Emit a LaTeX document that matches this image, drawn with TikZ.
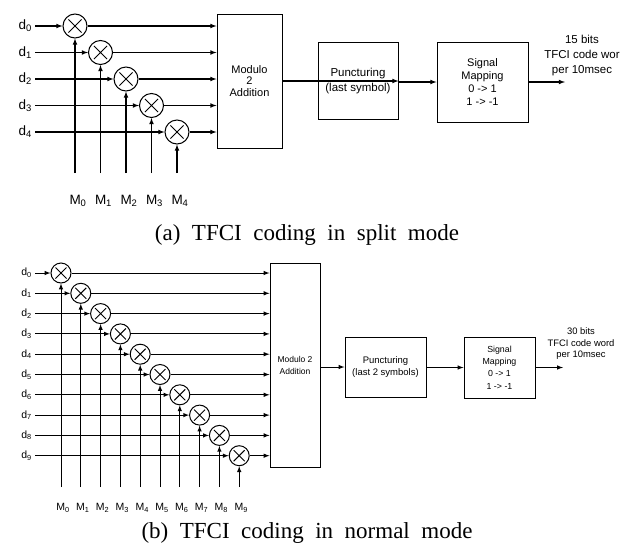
\documentclass[tikz,border=0pt]{standalone}
\usepackage{fontspec}
\setmainfont{Liberation Serif}
\setsansfont{Liberation Sans}
\usepackage{tikz}
\usetikzlibrary{arrows, positioning, calc}

\begin{document}
\begin{tikzpicture}[x=1pt, y=-1pt, >=latex,
    wire/.style={line width=#1},
    wire/.default=1.1pt,
    mulnode/.style={draw, circle, fill=white, line width=1pt, minimum size=2*#1, inner sep=0pt,
        path picture={\draw[line width=1pt]
            ([shift={(-0.55*#1,-0.55*#1)}]path picture bounding box.center) -- ([shift={(0.55*#1,0.55*#1)}]path picture bounding box.center)
            ([shift={(-0.55*#1,0.55*#1)}]path picture bounding box.center) -- ([shift={(0.55*#1,-0.55*#1)}]path picture bounding box.center);}},
    blockbox/.style={draw, line width=1pt, align=center, inner sep=0pt},
    lab/.style={inner sep=0pt, font=\sffamily\fontsize{#1}{#1}\selectfont},
    capt/.style={inner sep=0pt, font=\fontsize{23}{26}\selectfont}]

\useasboundingbox (0,0) rectangle (634,552);

% (a) split mode
\node[blockbox, minimum width=65pt, minimum height=134pt,
      font=\sffamily\fontsize{11}{11.5}\selectfont] (amod) at (249.5,81) {Modulo\\2\\Addition};
\node[blockbox, minimum width=80pt, minimum height=77pt,
      font=\sffamily\fontsize{11.5}{15}\selectfont] (apunct) at (358,81) {Puncturing\\(last symbol)};
\node[blockbox, minimum width=91pt, minimum height=80pt,
      font=\sffamily\fontsize{11}{13.3}\selectfont] (asig) at (482.5,82) {Signal\\Mapping\\0 -> 1\\1 -> -1};
\coordinate (aend) at (565,82);
\node[lab=11.5, align=center, font=\sffamily\fontsize{11.5}{15}\selectfont] (aout) at (582,56) {15 bits\\TFCI code wor\\per 10msec};

\foreach \i in {0,...,4} {
    \pgfmathsetmacro\yy{26+26.5*\i}
    \pgfmathsetmacro\xx{75+25.5*\i}
    \coordinate (ain\i) at (35,\yy);
    \node[lab=13.5, left=3pt of ain\i] (ad\i) {d\textsubscript{\i}};
    \node[mulnode=12pt] (ax\i) at (\xx,\yy) {};
    \coordinate (am\i) at (\xx,173);
    \node[lab=13.5] (aM\i) at (\xx+3,201) {M\textsubscript{\i}};
    \draw[wire,->] (ain\i) -- (ax\i.west);
    \draw[wire,->] (ax\i.east) -- (ax\i.east -| amod.west);
    \draw[wire,->] (am\i) -- (ax\i.south);
}

\draw[wire,->] (amod.east |- apunct.east) -- (apunct.east);
\draw[wire,->] (apunct.east |- asig.west) -- (asig.west);
\draw[wire,->] (asig.east) -- (aend);

\node[capt] (capA) at (307,235) {(a)\ \ TFCI\ \ coding\ \ in\ \ split\ \ mode};

% (b) normal mode
\node[blockbox, minimum width=50pt, minimum height=204pt,
      font=\sffamily\fontsize{8.5}{12}\selectfont] (bmod) at (295,365) {Modulo 2\\Addition};
\node[blockbox, minimum width=81pt, minimum height=60pt,
      font=\sffamily\fontsize{9.5}{12}\selectfont] (bpunct) at (385.5,367) {Puncturing\\(last 2 symbols)};
\node[blockbox, minimum width=71pt, minimum height=61pt,
      font=\sffamily\fontsize{8.8}{12.3}\selectfont] (bsig) at (499.5,367.5) {Signal\\Mapping\\0 -> 1\\1 -> -1};
\coordinate (bend) at (563,367.5);
\node[align=center, inner sep=0pt, font=\sffamily\fontsize{9.4}{11.5}\selectfont] (bout) at (581,344) {30 bits\\TFCI code word\\per 10msec};

\foreach \i in {0,...,9} {
    \pgfmathsetmacro\yy{273+20.3*\i}
    \pgfmathsetmacro\xx{61+19.8*\i}
    \coordinate (bin\i) at (35,\yy);
    \node[lab=10.5, left=3pt of bin\i] (bd\i) {d\textsubscript{\i}};
    \node[mulnode=10pt] (bx\i) at (\xx,\yy) {};
    \coordinate (bm\i) at (\xx,487);
    \node[lab=10.5] (bM\i) at (\xx+2,508) {M\textsubscript{\i}};
    \draw[wire=1pt,->] (bin\i) -- (bx\i.west);
    \draw[wire=1pt,->] (bx\i.east) -- (bx\i.east -| bmod.west);
    \draw[wire=1pt,->] (bm\i) -- (bx\i.south);
}

\draw[wire=1pt,->] (bmod.east |- bpunct.west) -- (bpunct.west);
\draw[wire=1pt,->] (bpunct.east |- bsig.west) -- (bsig.west);
\draw[wire=1pt,->] (bsig.east) -- (bend);

\node[capt] (capB) at (307,533) {(b)\ \ TFCI\ \ coding\ \ in\ \ normal\ \ mode};
\end{tikzpicture}
\end{document}
